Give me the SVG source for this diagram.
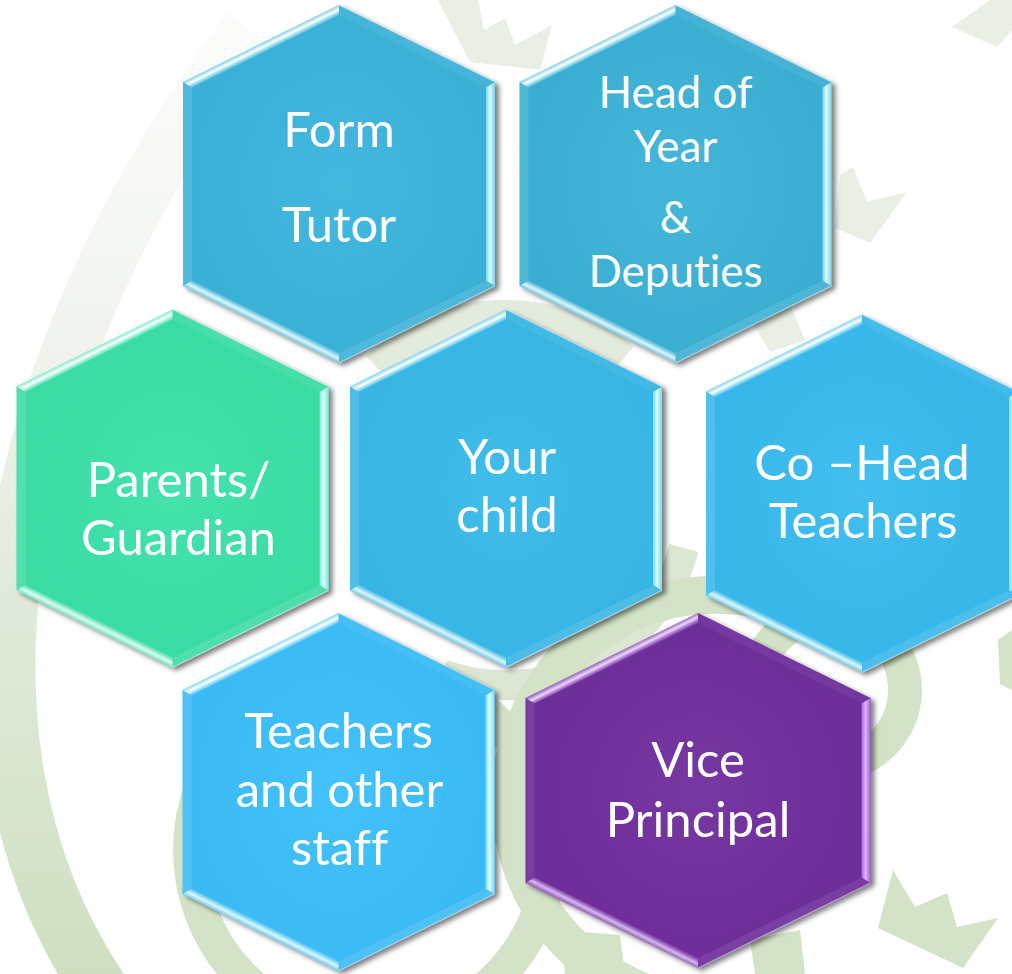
<svg xmlns="http://www.w3.org/2000/svg" xmlns:xlink="http://www.w3.org/1999/xlink" width="1012" height="974" viewBox="0 0 1012 974">
<style>
.t{font-family:Lato,"Open Sans","Liberation Sans",sans-serif;fill:#ffffff;font-size:49px;text-anchor:middle;font-variant-ligatures:none;font-feature-settings:"liga" 0}
.ts{font-size:44px}
.wm{fill:none;stroke:#d4e3c7}
.wmf{fill:#d4e3c7}
.wmp{fill:#eaefe5}
</style>
<defs>
<filter id="sh" x="-10%" y="-10%" width="125%" height="125%">
<feDropShadow dx="4" dy="3" stdDeviation="2.5" flood-color="#000" flood-opacity="0.5"/>
</filter>
<linearGradient id="wmfade" gradientUnits="userSpaceOnUse" x1="0" y1="60" x2="0" y2="974">
<stop offset="0" stop-color="#fbfcfa"/>
<stop offset="0.3" stop-color="#f1f4ee"/>
<stop offset="0.6" stop-color="#e1eada"/>
<stop offset="1" stop-color="#cfe0c1"/>
</linearGradient>
<radialGradient id="gloss" cx="0.5" cy="0.5" r="0.6">
<stop offset="0" stop-color="#fff" stop-opacity="0.05"/>
<stop offset="1" stop-color="#000" stop-opacity="0.03"/>
</radialGradient>
<linearGradient id="gTL" gradientUnits="userSpaceOnUse" x1="-78" y1="-140.5" x2="-74" y2="-132.4">
<stop offset="0" stop-color="#eaffff" stop-opacity="0.45"/>
<stop offset="0.45" stop-color="#ffffff" stop-opacity="1"/>
<stop offset="1" stop-color="#c8fbff" stop-opacity="0.2"/>
</linearGradient>
<linearGradient id="gR" gradientUnits="userSpaceOnUse" x1="156" y1="0" x2="147" y2="0">
<stop offset="0" stop-color="#b0f6ff" stop-opacity="0.55"/>
<stop offset="0.55" stop-color="#e8ffff" stop-opacity="0.95"/>
<stop offset="1" stop-color="#b8faff" stop-opacity="0.55"/>
</linearGradient>
<linearGradient id="gBL" gradientUnits="userSpaceOnUse" x1="-78" y1="140.5" x2="-74" y2="132.4">
<stop offset="0" stop-color="#eaffff" stop-opacity="0.35"/>
<stop offset="0.45" stop-color="#ffffff" stop-opacity="0.85"/>
<stop offset="1" stop-color="#c8fbff" stop-opacity="0.15"/>
</linearGradient>
<linearGradient id="vTL" gradientUnits="userSpaceOnUse" x1="-86" y1="-135" x2="-82" y2="-127">
<stop offset="0" stop-color="#e8c8ff" stop-opacity="0.4"/>
<stop offset="0.45" stop-color="#f4e4ff" stop-opacity="0.95"/>
<stop offset="1" stop-color="#d9a8ff" stop-opacity="0.2"/>
</linearGradient>
<linearGradient id="vR" gradientUnits="userSpaceOnUse" x1="172.5" y1="0" x2="163.5" y2="0">
<stop offset="0" stop-color="#c890f5" stop-opacity="0.6"/>
<stop offset="0.55" stop-color="#e2bcff" stop-opacity="0.95"/>
<stop offset="1" stop-color="#cc96ff" stop-opacity="0.6"/>
</linearGradient>
<linearGradient id="vBL" gradientUnits="userSpaceOnUse" x1="-86" y1="135" x2="-82" y2="127">
<stop offset="0" stop-color="#e8c8ff" stop-opacity="0.35"/>
<stop offset="0.45" stop-color="#f0dcff" stop-opacity="0.8"/>
<stop offset="1" stop-color="#d9a8ff" stop-opacity="0.15"/>
</linearGradient>
<path id="hex" d="M0,-179 L156,-102 L156,102 L0,179 L-156,102 L-156,-102 Z"/>
<g id="bevel">
<path d="M-156,-102 L0,-179 L0,-169 L-147,-96.4 Z" fill="url(#gTL)"/>
<path d="M156,-102 L156,102 L147,96.4 L147,-96.4 Z" fill="url(#gR)"/>
<path d="M-156,102 L0,179 L0,169 L-147,96.4 Z" fill="url(#gBL)"/>
<path d="M-156,-102 L-156,102 L-147,96.4 L-147,-96.4 Z" fill="#ffffff" fill-opacity="0.12"/>
<path d="M0,-179 L156,-102 L147,-96.4 L0,-169 Z" fill="#ffffff" fill-opacity="0.06"/>
<path d="M0,179 L156,102 L147,96.4 L0,169 Z" fill="#ffffff" fill-opacity="0.1"/>
<path d="M0,-179 L156,-102" fill="none" stroke="#ffffff" stroke-opacity="0.35" stroke-width="1.2"/>
<path d="M0,179 L156,102" fill="none" stroke="#ffffff" stroke-opacity="0.45" stroke-width="1.2"/>
</g>
<path id="hexv" d="M0,-177.5 L172.5,-92.5 L172.5,92.5 L0,177.5 L-172.5,92.5 L-172.5,-92.5 Z"/>
<g id="bevelv">
<path d="M-172.5,-92.5 L0,-177.5 L0,-167.5 L-163.5,-86.9 Z" fill="url(#vTL)"/>
<path d="M172.5,-92.5 L172.5,92.5 L163.5,86.9 L163.5,-86.9 Z" fill="url(#vR)"/>
<path d="M-172.5,92.5 L0,177.5 L0,167.5 L-163.5,86.9 Z" fill="url(#vBL)"/>
<path d="M-172.5,-92.5 L-172.5,92.5 L-163.5,86.9 L-163.5,-86.9 Z" fill="#ffffff" fill-opacity="0.08"/>
<path d="M0,-177.5 L172.5,-92.5 L163.5,-86.9 L0,-167.5 Z" fill="#ffffff" fill-opacity="0.05"/>
<path d="M0,177.5 L172.5,92.5 L163.5,86.9 L0,167.5 Z" fill="#ffffff" fill-opacity="0.08"/>
<path d="M0,177.5 L172.5,92.5" fill="none" stroke="#e0b8ff" stroke-opacity="0.6" stroke-width="1.2"/>
</g>
</defs>

<rect x="0" y="0" width="1012" height="974" fill="#ffffff"/>

<g id="watermark">
<path d="M 250 30 C 40 300, -100 720, 115 1010" fill="none" stroke="url(#wmfade)" stroke-width="56"/>
<path d="M 376.5 367 A 185 185 0 0 1 624 358" fill="none" stroke="#e3ebdc" stroke-width="30"/>
<path d="M 684 548 A 185 185 0 0 1 442 674" fill="none" stroke="#dce6d3" stroke-width="30"/>
<path d="M 768 998 A 205 205 0 1 1 802 614" class="wm" stroke-width="38"/>
<circle cx="370" cy="850" r="180" class="wm" stroke-width="34"/>
<circle cx="830" cy="690" r="75" class="wm" stroke-width="34"/>
<polygon class="wmf" points="893,870 915,907 947,893 957,927 998,918 963,968 878,928"/>
<polygon class="wmp" points="853,167 867,202 907,192 870,243 835,228 840,175"/>
<polygon class="wmp" points="952,27 990,0 1012,0 1012,30 997,47"/>
<polygon class="wmp" points="438,0 478,0 484,30 505,18 515,45 552,25 540,70 470,62"/>
<polygon class="wmp" points="752,322 790,305 805,340 770,352"/>
<polygon class="wmf" points="560,930 620,935 625,974 565,974"/>
<polygon class="wmf" points="750,940 800,930 805,974 755,974"/>
<polygon class="wmf" points="998,640 1012,630 1012,690 1000,684"/>
</g>

<g id="connectors"></g>

<g id="n-form-tutor" transform="translate(339,184)">
<use xlink:href="#hex" href="#hex" fill="#3ab5dd" filter="url(#sh)"/>
<use xlink:href="#hex" href="#hex" fill="url(#gloss)"/>
<use xlink:href="#bevel" href="#bevel"/>
<text class="t" x="0" y="-37">Form</text>
<text class="t" x="0" y="58">Tutor</text>
</g>

<g id="n-head-of-year" transform="translate(675.5,184)">
<use xlink:href="#hex" href="#hex" fill="#3bb3d8" filter="url(#sh)"/>
<use xlink:href="#hex" href="#hex" fill="url(#gloss)"/>
<use xlink:href="#bevel" href="#bevel"/>
<text class="t ts" x="0" y="-76">Head of</text>
<text class="t ts" x="0" y="-22">Year</text>
<text class="t ts" x="0" y="49">&amp;</text>
<text class="t ts" x="0" y="103">Deputies</text>
</g>

<g id="n-parents" transform="translate(172.5,488.5)">
<use xlink:href="#hex" href="#hex" fill="#3ae2a8" filter="url(#sh)"/>
<use xlink:href="#hex" href="#hex" fill="url(#gloss)"/>
<use xlink:href="#bevel" href="#bevel"/>
<text class="t" x="6" y="8.5">Parents/</text>
<text class="t" x="6" y="66.5">Guardian</text>
</g>

<g id="n-your-child" transform="translate(506,488.5)">
<use xlink:href="#hex" href="#hex" fill="#37baea" filter="url(#sh)"/>
<use xlink:href="#hex" href="#hex" fill="url(#gloss)"/>
<use xlink:href="#bevel" href="#bevel"/>
<text class="t" x="1" y="-14.5">Your</text>
<text class="t" x="1" y="43.5">child</text>
</g>

<g id="n-co-head" transform="translate(862,493.5)">
<use xlink:href="#hex" href="#hex" fill="#38bcf0" filter="url(#sh)"/>
<use xlink:href="#hex" href="#hex" fill="url(#gloss)"/>
<use xlink:href="#bevel" href="#bevel"/>
<text class="t" x="0" y="-13.5">Co –Head</text>
<text class="t" x="1" y="44.5">Teachers</text>
</g>

<g id="n-teachers" transform="translate(338.5,792)">
<use xlink:href="#hex" href="#hex" fill="#3bbffb" filter="url(#sh)"/>
<use xlink:href="#hex" href="#hex" fill="url(#gloss)"/>
<use xlink:href="#bevel" href="#bevel"/>
<text class="t" x="0" y="-44">Teachers</text>
<text class="t" x="1" y="15">and other</text>
<text class="t" x="1" y="73">staff</text>
</g>

<g id="n-vice-principal" transform="translate(698,790.5)">
<use xlink:href="#hexv" href="#hexv" fill="#6f2f9e" filter="url(#sh)"/>
<use xlink:href="#hexv" href="#hexv" fill="url(#gloss)"/>
<use xlink:href="#bevelv" href="#bevelv"/>
<text class="t" x="0" y="-13.5">Vice</text>
<text class="t" x="0" y="46.5">Principal</text>
</g>
</svg>
